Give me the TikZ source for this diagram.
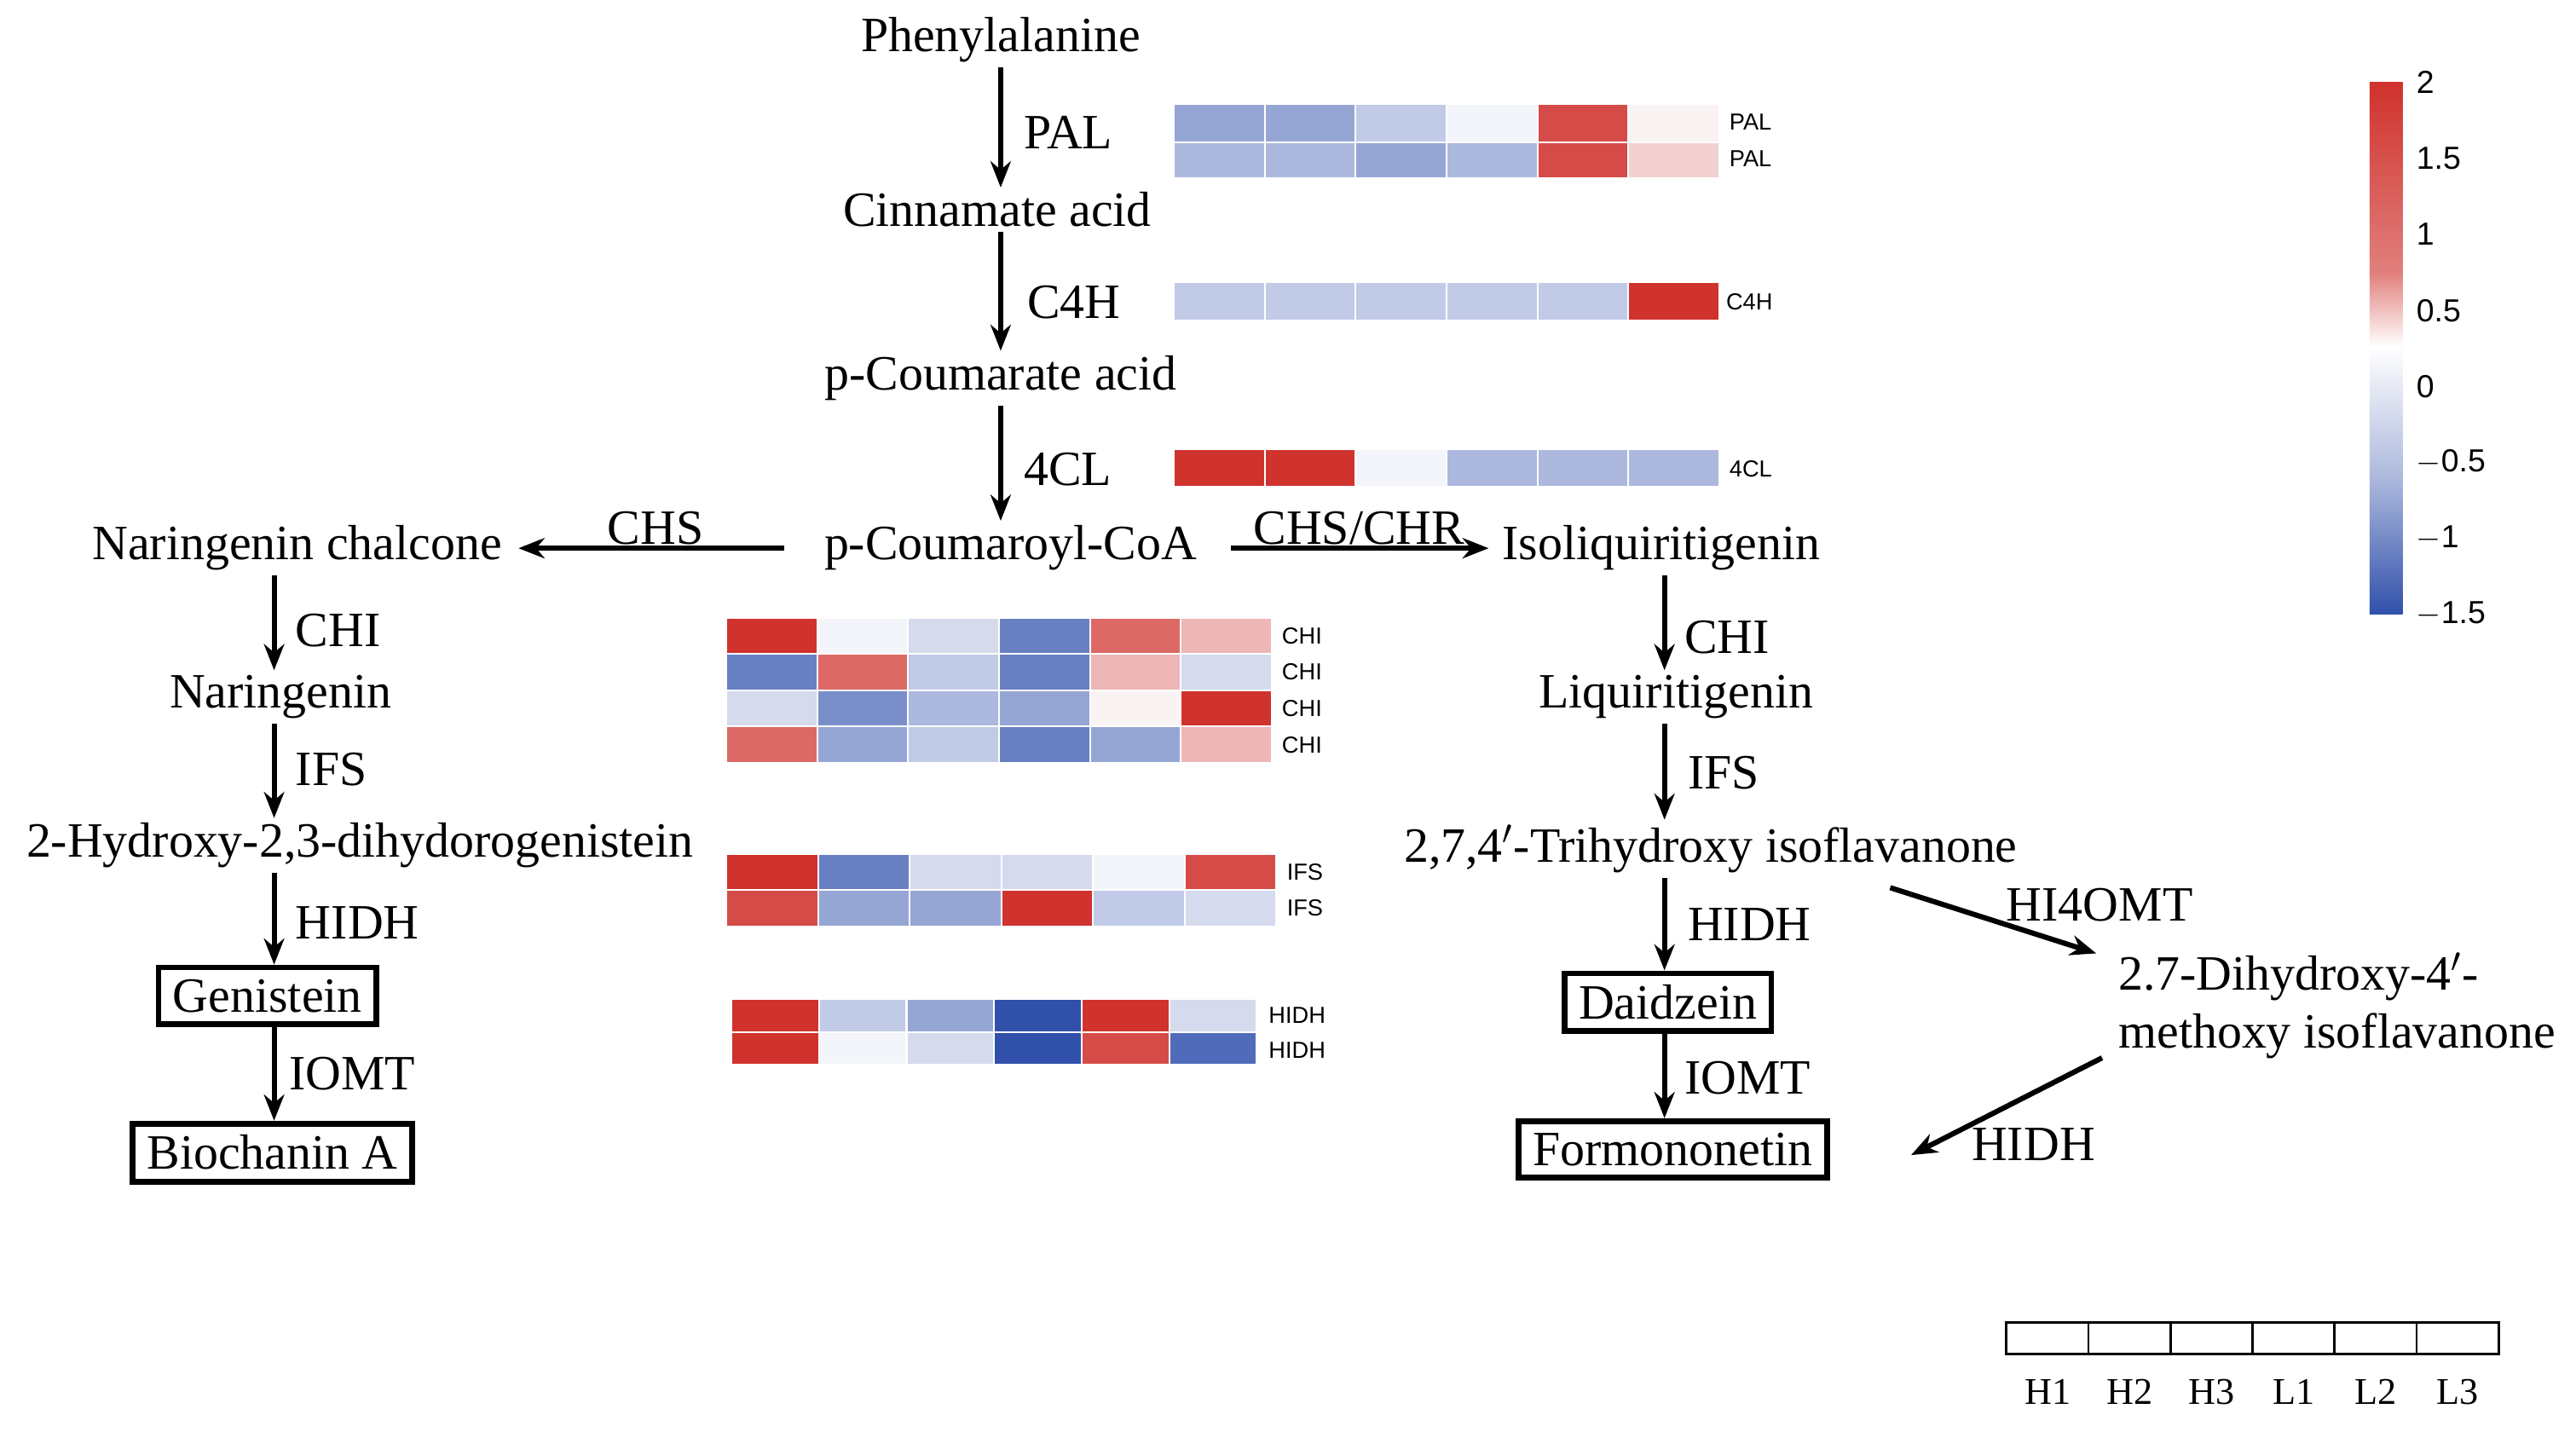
\documentclass[tikz,border=0pt]{standalone}
\usepackage{fontspec}
\setmainfont{Liberation Serif}
\setsansfont{Liberation Sans}
\usetikzlibrary{arrows.meta}
\definecolor{R1}{RGB}{208,50,45}
\definecolor{R2}{RGB}{213,75,72}
\definecolor{R3}{RGB}{220,105,102}
\definecolor{P1}{RGB}{237,183,183}
\definecolor{P2}{RGB}{243,208,208}
\definecolor{W}{RGB}{244,245,250}
\definecolor{W2}{RGB}{250,243,243}
\definecolor{B1}{RGB}{213,219,237}
\definecolor{B2}{RGB}{193,202,230}
\definecolor{B3}{RGB}{172,184,221}
\definecolor{B4}{RGB}{150,166,212}
\definecolor{B5}{RGB}{122,143,201}
\definecolor{B6}{RGB}{104,127,194}
\definecolor{B7}{RGB}{48,80,170}
\definecolor{B8}{RGB}{80,107,186}
\tikzset{
 met/.style={font=\fontsize{17}{20}\selectfont, inner sep=1.5pt},
 enz/.style={font=\fontsize{17}{20}\selectfont, inner sep=1pt, anchor=west},
 box/.style={met, draw, line width=2pt, inner xsep=5pt, inner ysep=4pt},
 arr/.style={-{Stealth[length=9pt,width=7pt]}, line width=1.8pt},
 hl/.style={font=\sffamily\fontsize{8}{9}\selectfont, anchor=west, inner sep=0pt},
 cb/.style={font=\sffamily\fontsize{11}{12}\selectfont, anchor=west, inner sep=0pt},
}
\newcommand{\hrow}[5]{% x0, y0, cellwidth, height, colors
 \foreach \c [count=\i from 0] in {#5}{
  \fill[\c, draw=white, line width=0.6pt] ({#1+\i*#3},#2) rectangle ++(#3,#4);
 }}
\begin{document}
\begin{tikzpicture}[x=0.02cm,y=-0.02cm]
\useasboundingbox (0,0) rectangle (1560,867);
% metabolites
\node[met] (phe) at (606,24) {Phenylalanine};
\node[met] (cin) at (604,127) {Cinnamate acid};
\node[met] (cou) at (606,229) {p-Coumarate acid};
\node[met] (coa) at (612,332) {p-Coumaroyl-CoA};
\node[met] (nc) at (180,332) {Naringenin chalcone};
\node[met] (iso) at (1006,332) {Isoliquiritigenin};
\node[met] (nar) at (170,422) {Naringenin};
\node[met] (hyd) at (218,512) {2-Hydroxy-2,3-dihydorogenistein};
\node[box] (gen) at (162,603) {Genistein};
\node[box] (bio) at (165,698) {Biochanin A};
\node[met] (liq) at (1015,422) {Liquiritigenin};
\node[met] (tri) at (1036,514) {2,7,4$'$-Trihydroxy isoflavanone};
\node[box] (dai) at (1010,607) {Daidzein};
\node[box] (for) at (1013,696) {Formononetin};
\node[met, align=left, anchor=west] (dih) at (1280,609) {2.7-Dihydroxy-4$'$-\\methoxy isoflavanone};
% arrows
\draw[arr] (phe.south) -- (phe.south |- cin.north);
\draw[arr] (phe.south |- cin.south) -- (phe.south |- cou.north);
\draw[arr] (phe.south |- cou.south) -- (phe.south |- coa.north);
\draw[arr] ([xshift=-12pt]coa.west) -- ([xshift=4pt]nc.east);
\draw[arr] ([xshift=10pt]coa.east) -- ([xshift=-3pt]iso.west);
\draw[arr] (nc.south -| 166,0) -- (nar.north -| 166,0);
\draw[arr] (nar.south -| 166,0) -- (hyd.north -| 166,0);
\draw[arr] (hyd.south -| 166,0) -- (gen.north -| 166,0);
\draw[arr] (gen.south -| 166,0) -- (bio.north -| 166,0);
\draw[arr] (iso.south -| 1008,0) -- (liq.north -| 1008,0);
\draw[arr] (liq.south -| 1008,0) -- (tri.north -| 1008,0);
\draw[arr] (tri.south -| 1008,0) -- (dai.north -| 1008,0);
\draw[arr] (dai.south -| 1008,0) -- (for.north -| 1008,0);
\draw[arr] (tri.south east) ++(-80,6) -- ([xshift=-6pt,yshift=-2pt]dih.north west);
\draw[arr] ([xshift=-4pt,yshift=2pt]dih.south west) -- ([xshift=28pt,yshift=-2pt]for.east);
% enzyme labels
\node[enz] (e1) at (618,80) {PAL};
\node[enz] (e2) at (620,183) {C4H};
\node[enz] (e3) at (618,284) {4CL};
\node[met] (e4) at (397,320) {CHS};
\node[met] (e5) at (823,320) {CHS/CHR};
\node[enz] (e6) at (177,382) {CHI};
\node[enz] (e7) at (177,466) {IFS};
\node[enz] (e8) at (177,559) {HIDH};
\node[enz] (e9) at (173,650) {IOMT};
\node[enz] (e10) at (1018,386) {CHI};
\node[enz] (e11) at (1020,468) {IFS};
\node[enz] (e12) at (1020,560) {HIDH};
\node[enz] (e13) at (1018,653) {IOMT};
\node[enz] (e14) at (1213,548) {HI4OMT};
\node[enz] (e15) at (1192,693) {HIDH};
% heatmaps
\hrow{711}{63}{55}{23}{B4,B4,B2,W,R2,W2}
\hrow{711}{86}{55}{22}{B3,B3,B4,B3,R2,P2}
\node[hl] (h1) at (1047,74) {PAL};
\node[hl] (h2) at (1047,96) {PAL};
\hrow{711}{171}{55}{23}{B2,B2,B2,B2,B2,R1}
\node[hl] (h3) at (1045,183) {C4H};
\hrow{711}{272}{55}{23}{R1,R1,W,B3,B3,B3}
\node[hl] (h4) at (1047,284) {4CL};
\hrow{440}{374}{55}{22}{R1,W,B1,B6,R3,P1}
\hrow{440}{396}{55}{22}{B6,R3,B2,B6,P1,B1}
\hrow{440}{418}{55}{22}{B1,B5,B3,B4,W2,R1}
\hrow{440}{440}{55}{22}{R3,B4,B2,B6,B4,P1}
\node[hl] (h5) at (776,385) {CHI};
\node[hl] (h6) at (776,407) {CHI};
\node[hl] (h7) at (776,429) {CHI};
\node[hl] (h8) at (776,451) {CHI};
\hrow{440}{517}{55.5}{22}{R1,B6,B1,B1,W,R2}
\hrow{440}{539}{55.5}{22}{R2,B4,B4,R1,B2,B1}
\node[hl] (h9) at (779,528) {IFS};
\node[hl] (h10) at (779,550) {IFS};
\hrow{443}{605}{53}{20}{R1,B2,B4,B7,R1,B1}
\hrow{443}{625}{53}{20}{R1,W,B1,B7,R2,B8}
\node[hl] (h11) at (768,615) {HIDH};
\node[hl] (h12) at (768,636) {HIDH};
% colour bar
\shade[top color=R1, bottom color=R1!60!W2] (1435,50) rectangle (1455,165);
\shade[top color=R1!60!W2, bottom color=white] (1435,165) rectangle (1455,210);
\shade[top color=white, bottom color=B3] (1435,210) rectangle (1455,290);
\shade[top color=B3, bottom color=B7] (1435,290) rectangle (1455,372);
\node[cb] (c1) at (1463,50) {2};
\node[cb] (c2) at (1463,96) {1.5};
\node[cb] (c3) at (1463,142) {1};
\node[cb] (c4) at (1463,188) {0.5};
\node[cb] (c5) at (1463,234) {0};
\node[cb] (c6) at (1463,280) {$-$0.5};
\node[cb] (c7) at (1463,326) {$-$1};
\node[cb] (c8) at (1463,372) {$-$1.5};
% sample legend
\foreach \s [count=\i from 0] in {H1,H2,H3,L1,L2,L3}{
 \draw[line width=0.8pt] ({1215+\i*49.7},801) rectangle ++(49.7,19);
 \node[font=\fontsize{13}{14}\selectfont] (s\i) at ({1240+\i*49.7},843) {\s};
}
\end{tikzpicture}
\end{document}
